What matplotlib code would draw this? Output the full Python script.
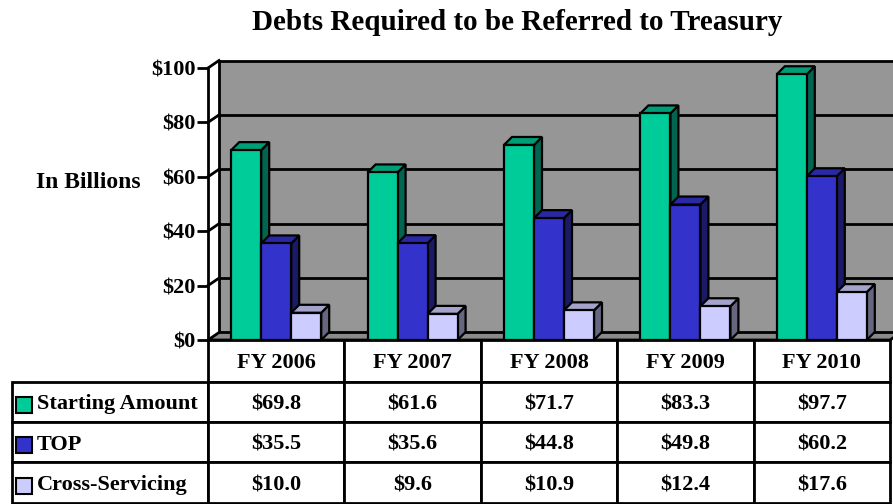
import matplotlib
matplotlib.use("Agg")
import matplotlib.pyplot as plt
from matplotlib.patches import Rectangle, Polygon
from matplotlib.table import Table

# ---- data ----
categories = ["FY 2006", "FY 2007", "FY 2008", "FY 2009", "FY 2010"]
series_names = ["Starting Amount", "TOP", "Cross-Servicing"]
starting_amount = [69.8, 61.6, 71.7, 83.3, 97.7]
top_values = [35.5, 35.6, 44.8, 49.8, 60.2]
cross_servicing = [10.0, 9.6, 10.9, 12.4, 17.6]
y_ticks = [0, 20, 40, 60, 80, 100]
y_tick_labels = ["$0", "$20", "$40", "$60", "$80", "$100"]
title = "Debts Required to be Referred to Treasury"
y_label = "In Billions"

series = [starting_amount, top_values, cross_servicing]
front_colors = ["#00CC99", "#3333CC", "#CCCCFF"]
side_colors = ["#006650", "#1A1A66", "#666680"]
top_colors = ["#009E77", "#2929A3", "#A3A3CC"]

SERIF = "Liberation Serif"
W, H = 893, 504
fig = plt.figure(figsize=(W / 100, H / 100), dpi=100)

# plot axes (front plane)
ax_l, ax_r, ax_t, ax_b = 208, 890, 68, 340
ax = fig.add_axes([ax_l / W, 1 - ax_b / H, (ax_r - ax_l) / W, (ax_b - ax_t) / H])
n = len(categories)
ax.set_xlim(0, n)
ax.set_ylim(0, 100)
px_x = (ax_r - ax_l) / n
px_y = (ax_b - ax_t) / 100.0
WDX, WDY = 11 / px_x, 7.5 / px_y
BDX, BDY = 8 / px_x, 8 / px_y

# back wall
ax.add_patch(Polygon([(WDX, WDY), (n + WDX, WDY), (n + WDX, 100 + WDY), (WDX, 100 + WDY)],
                     closed=True, facecolor="#969696", edgecolor="black", lw=2,
                     clip_on=False, zorder=1))
# floor
ax.add_patch(Polygon([(0, 0), (n, 0), (n + WDX, WDY), (WDX, WDY)], closed=True,
                     facecolor="#8a8a8a", edgecolor="black", lw=2, clip_on=False, zorder=1))
# gridlines on wall + left wall diagonals
for v in y_ticks[1:]:
    ax.plot([0, WDX], [v, v + WDY], color="black", lw=2, clip_on=False, zorder=1.5)
    if v < 100:
        ax.plot([WDX, n + WDX], [v + WDY, v + WDY], color="black", lw=2,
                clip_on=False, zorder=1.5)

# 3D bars
bw = 30 / px_x
for i in range(n):
    for s in range(3):
        h = series[s][i]
        x0 = i + 0.5 + (s - 1.5) * bw
        z = 3 + s
        ax.add_patch(Polygon([(x0 + bw, 0), (x0 + bw + BDX, BDY), (x0 + bw + BDX, h + BDY),
                              (x0 + bw, h)], closed=True, facecolor=side_colors[s],
                             edgecolor="black", lw=1.6, clip_on=False, zorder=z))
        ax.add_patch(Polygon([(x0, h), (x0 + bw, h), (x0 + bw + BDX, h + BDY),
                              (x0 + BDX, h + BDY)], closed=True, facecolor=top_colors[s],
                             edgecolor="black", lw=1.6, clip_on=False, zorder=z))
        ax.add_patch(Rectangle((x0, 0), bw, h, facecolor=front_colors[s],
                               edgecolor="black", lw=1.6, clip_on=False, zorder=z))

for sp in ["top", "right", "bottom"]:
    ax.spines[sp].set_visible(False)
ax.spines["left"].set_linewidth(2)
ax.spines["left"].set_zorder(10)
ax.set_xticks([])
ax.set_yticks(y_ticks)
ax.set_yticklabels(y_tick_labels, fontfamily=SERIF, fontweight="bold", fontsize=16)
ax.tick_params(axis="y", direction="out", length=8, width=2, pad=1)
ax.set_ylabel(y_label, rotation=0, fontfamily=SERIF, fontweight="bold", fontsize=17,
              ha="center", va="center")
ax.yaxis.set_label_coords((88 - ax_l) / (ax_r - ax_l), (ax_b - 183) / (ax_b - ax_t))
ax.patch.set_visible(False)

fig.text(517 / W, 1 - 22 / H, title, ha="center", va="center", fontfamily=SERIF,
         fontweight="bold", fontsize=21)

# data table: axes covers the data columns; row labels extend to the left
t_l, t_r, t_t, t_b = ax_l, ax_r, 340, 503
tw, th = t_r - t_l, t_b - t_t
tax = fig.add_axes([t_l / W, 1 - t_b / H, tw / W, th / H])
tax.set_axis_off()
tax.set_xlim(0, 1)
tax.set_ylim(0, 1)
lab_w = (t_l - 12) / tw
col_w = 1.0 / n
row_h = [42 / th, 40 / th, 40 / th, 41 / th]
tab = Table(tax, bbox=[0, 0, 1, 1])
for j, c in enumerate(categories):
    tab.add_cell(0, j, width=col_w, height=row_h[0], text=c, loc="center",
                 facecolor="white", edgecolor="black")
for r in range(3):
    cell = tab.add_cell(r + 1, -1, width=lab_w, height=row_h[r + 1], text=series_names[r],
                        loc="left", facecolor="white", edgecolor="black")
    cell.PAD = 25 / (t_l - 12)
    for j in range(n):
        tab.add_cell(r + 1, j, width=col_w, height=row_h[r + 1],
                     text="${:.1f}".format(series[r][j]), loc="center",
                     facecolor="white", edgecolor="black")
tab.auto_set_font_size(False)
for key, cell in tab.get_celld().items():
    cell.set_linewidth(2)
    cell.set_clip_on(False)
    txt = cell.get_text()
    txt.set_fontfamily(SERIF)
    txt.set_fontweight("bold")
    txt.set_fontsize(16)
    txt.set_verticalalignment("center_baseline")
tax.add_table(tab)

# legend keys in row-label cells
y_top = 1 - row_h[0]
for r in range(3):
    yc = y_top - row_h[r + 1] / 2 - 3 / th
    tax.add_patch(Rectangle((-(t_l - 16) / tw, yc - 8 / th), 16 / tw, 16 / th,
                            facecolor=front_colors[r], edgecolor="black", lw=1.5,
                            zorder=5, clip_on=False))
    y_top -= row_h[r + 1]

fig.savefig("out.png", dpi=100)
